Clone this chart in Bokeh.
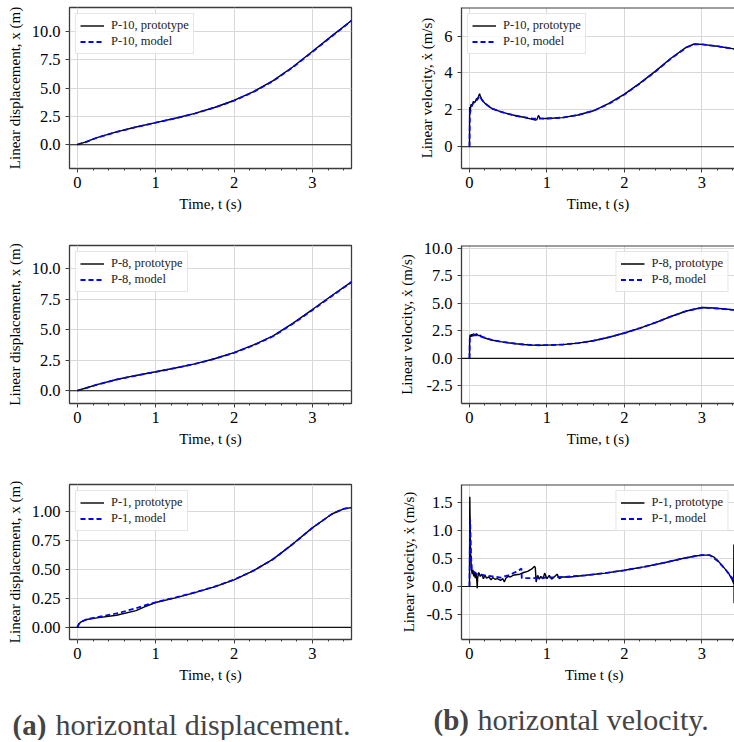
from bokeh.plotting import figure
from bokeh.layouts import column, row
from bokeh.models import Range1d, FixedTicker, PrintfTickFormatter, Span, Label
from bokeh.embed import file_html
from bokeh.resources import INLINE

FONT = "'Liberation Serif', serif"

# ---------------- data ----------------
# P-10 displacement
t_d10 = [0, 0.1, 0.25, 0.5, 0.75, 1.0, 1.25, 1.5, 1.75, 2.0, 2.25, 2.5, 2.75, 3.0, 3.25, 3.5]
x_d10_proto = [0, 0.22, 0.62, 1.13, 1.56, 1.95, 2.33, 2.76, 3.28, 3.90, 4.68, 5.65, 6.85, 8.22, 9.60, 10.95]
x_d10_model = [0, 0.21, 0.61, 1.12, 1.55, 1.94, 2.32, 2.75, 3.27, 3.88, 4.66, 5.62, 6.82, 8.18, 9.57, 10.93]

# P-8 displacement
t_d8 = [0, 0.1, 0.25, 0.5, 0.75, 1.0, 1.25, 1.5, 1.75, 2.0, 2.25, 2.5, 2.75, 3.0, 3.25, 3.5]
x_d8_proto = [0, 0.2, 0.5, 0.92, 1.25, 1.55, 1.86, 2.2, 2.62, 3.12, 3.75, 4.5, 5.52, 6.65, 7.8, 8.92]
x_d8_model = [0, 0.19, 0.49, 0.91, 1.24, 1.54, 1.85, 2.19, 2.61, 3.1, 3.72, 4.46, 5.48, 6.6, 7.76, 8.9]

# P-1 displacement
t_d1 = [0, 0.02, 0.05, 0.12, 0.25, 0.5, 0.75, 0.85, 1.0, 1.25, 1.5, 1.75, 2.0, 2.25, 2.5, 2.75, 3.0, 3.25, 3.4, 3.5]
x_d1_proto = [0, 0.03, 0.048, 0.068, 0.082, 0.105, 0.145, 0.175, 0.215, 0.255, 0.3, 0.35, 0.41, 0.49, 0.59, 0.72, 0.86, 0.98, 1.025, 1.035]
x_d1_model = [0, 0.03, 0.05, 0.07, 0.088, 0.12, 0.165, 0.188, 0.217, 0.258, 0.302, 0.352, 0.412, 0.49, 0.59, 0.72, 0.86, 0.98, 1.025, 1.035]

# P-10 velocity
t_v10_proto = [0, 0.002, 0.01, 0.02, 0.03, 0.05, 0.07, 0.09, 0.11, 0.13, 0.14, 0.16, 0.2, 0.25, 0.3, 0.4, 0.5, 0.6, 0.7, 0.8, 0.85, 0.87, 0.89, 0.91, 0.95, 1.0, 1.2, 1.4, 1.6, 1.8, 2.0, 2.2, 2.4, 2.6, 2.8, 2.9, 3.0, 3.2, 3.5]
v_v10_proto = [0, 2.15, 1.95, 2.3, 2.2, 2.45, 2.4, 2.6, 2.65, 2.88, 2.75, 2.55, 2.35, 2.18, 2.05, 1.9, 1.78, 1.68, 1.6, 1.5, 1.45, 1.47, 1.7, 1.55, 1.53, 1.53, 1.58, 1.72, 1.95, 2.35, 2.85, 3.45, 4.1, 4.8, 5.4, 5.57, 5.55, 5.45, 5.25]
t_v10_model = [0, 0.005, 0.03, 0.07, 0.1, 0.13, 0.16, 0.2, 0.3, 0.4, 0.5, 0.6, 0.7, 0.8, 0.9, 1.0, 1.2, 1.4, 1.6, 1.8, 2.0, 2.2, 2.4, 2.6, 2.8, 2.9, 3.0, 3.2, 3.5]
v_v10_model = [0, 1.8, 2.25, 2.45, 2.55, 2.75, 2.55, 2.35, 2.05, 1.9, 1.78, 1.68, 1.6, 1.54, 1.52, 1.53, 1.58, 1.72, 1.95, 2.33, 2.83, 3.43, 4.08, 4.78, 5.38, 5.55, 5.55, 5.45, 5.25]

# P-8 velocity
t_v8_proto = [0, 0.002, 0.01, 0.02, 0.03, 0.04, 0.05, 0.06, 0.07, 0.08, 0.09, 0.1, 0.12, 0.14, 0.17, 0.2, 0.25, 0.3, 0.4, 0.5, 0.6, 0.7, 0.8, 0.9, 1.0, 1.2, 1.4, 1.6, 1.8, 2.0, 2.2, 2.4, 2.6, 2.8, 3.0, 3.1, 3.3, 3.5]
v_v8_proto = [0, 1.85, 2.15, 1.95, 2.2, 2.0, 2.25, 2.05, 2.2, 2.1, 2.25, 2.15, 2.05, 2.1, 1.9, 1.85, 1.72, 1.65, 1.52, 1.42, 1.33, 1.26, 1.21, 1.19, 1.2, 1.25, 1.38, 1.6, 1.92, 2.3, 2.75, 3.25, 3.8, 4.3, 4.62, 4.6, 4.48, 4.35]
t_v8_model = [0, 0.005, 0.03, 0.07, 0.1, 0.15, 0.2, 0.3, 0.4, 0.5, 0.6, 0.7, 0.8, 0.9, 1.0, 1.2, 1.4, 1.6, 1.8, 2.0, 2.2, 2.4, 2.6, 2.8, 3.0, 3.1, 3.3, 3.5]
v_v8_model = [0, 1.9, 2.05, 2.12, 2.1, 1.98, 1.87, 1.65, 1.52, 1.42, 1.33, 1.26, 1.21, 1.19, 1.2, 1.25, 1.38, 1.6, 1.92, 2.3, 2.75, 3.25, 3.8, 4.3, 4.6, 4.58, 4.47, 4.34]

# P-1 velocity
t_v1_proto = [0, 0.004, 0.008, 0.015, 0.025, 0.035, 0.045, 0.055, 0.065, 0.075, 0.085, 0.095, 0.1, 0.105, 0.12, 0.14, 0.16, 0.18, 0.2, 0.22, 0.25, 0.28, 0.3, 0.33, 0.36, 0.4, 0.43, 0.45, 0.47, 0.5, 0.53, 0.56, 0.6, 0.65, 0.7, 0.75, 0.8, 0.84, 0.85, 0.86, 0.88, 0.9, 0.92, 0.95, 0.97, 1.0, 1.03, 1.06, 1.1, 1.13, 1.16, 1.2, 1.3, 1.5, 1.75, 2.0, 2.25, 2.5, 2.75, 2.9, 3.0, 3.1, 3.15, 3.2, 3.25, 3.3, 3.35, 3.39, 3.41, 3.412, 3.415, 3.42]
v_v1_proto = [0, 1.6, 1.2, 0.6, 0.32, 0.22, 0.3, 0.18, 0.26, 0.15, 0.24, 0.1, -0.03, 0.15, 0.25, 0.18, 0.22, 0.14, 0.2, 0.15, 0.17, 0.12, 0.16, 0.13, 0.14, 0.11, 0.14, 0.08, 0.15, 0.18, 0.17, 0.2, 0.21, 0.22, 0.25, 0.27, 0.31, 0.36, 0.33, 0.08, 0.2, 0.13, 0.18, 0.14, 0.24, 0.14, 0.2, 0.13, 0.18, 0.22, 0.14, 0.17, 0.17, 0.2, 0.24, 0.29, 0.35, 0.42, 0.5, 0.54, 0.56, 0.56, 0.53, 0.47, 0.39, 0.31, 0.22, 0.12, 0.05, 0.75, -0.3, 0.1]
t_v1_model = [0, 0.008, 0.02, 0.03, 0.05, 0.1, 0.2, 0.3, 0.4, 0.5, 0.6, 0.67, 0.675, 0.8, 1.0, 1.2, 1.5, 1.75, 2.0, 2.25, 2.5, 2.75, 2.9, 3.0, 3.1, 3.2, 3.3, 3.42]
v_v1_model = [0, 1.2, 0.55, 0.33, 0.27, 0.22, 0.2, 0.18, 0.16, 0.2, 0.26, 0.32, 0.15, 0.15, 0.16, 0.17, 0.2, 0.24, 0.29, 0.35, 0.42, 0.5, 0.54, 0.56, 0.56, 0.46, 0.31, 0.1]

x_major_ticks = [0, 1, 2, 3]
x_minor_ticks = [0.2, 0.4, 0.6, 0.8, 1.2, 1.4, 1.6, 1.8, 2.2, 2.4, 2.6, 2.8, 3.2, 3.4]
yt_disp_big = [0, 2.5, 5, 7.5, 10]
yt_disp_small = [0, 0.25, 0.5, 0.75, 1.0]
yt_v10 = [0, 2, 4, 6]
yt_v8 = [-2.5, 0, 2.5, 5, 7.5, 10]
yt_v1 = [-0.5, 0, 0.5, 1.0, 1.5]

FRAME = "#3c3c3c"
GRID = "#d8d8d8"


def panel(width, height, xr, yr, mb, yticks, yfmt, xlabel, ylabel,
          name, tp, yp, tm, ym, legend_loc, open_right=False):
    p = figure(width=width, height=height, x_range=Range1d(*xr), y_range=Range1d(*yr),
               output_backend="svg", toolbar_location=None,
               min_border_left=mb[0], min_border_right=mb[1],
               min_border_top=mb[2], min_border_bottom=mb[3])
    p.background_fill_color = "white"
    p.border_fill_color = "white"
    p.xaxis.ticker = FixedTicker(ticks=x_major_ticks, minor_ticks=x_minor_ticks)
    p.yaxis.ticker = FixedTicker(ticks=yticks, minor_ticks=[])
    p.xgrid.ticker = FixedTicker(ticks=x_major_ticks)
    p.ygrid.ticker = FixedTicker(ticks=yticks)
    p.yaxis.formatter = PrintfTickFormatter(format=yfmt)
    p.xaxis.formatter = PrintfTickFormatter(format="%d")
    for g in (p.xgrid, p.ygrid):
        g.grid_line_color = GRID
        g.grid_line_width = 1
    for ax in (p.xaxis, p.yaxis):
        ax.major_tick_out = 4
        ax.major_tick_in = 0
        ax.minor_tick_out = 2
        ax.minor_tick_in = 0
        ax.major_tick_line_color = FRAME
        ax.minor_tick_line_color = FRAME
        ax.major_label_text_font = FONT
        ax.major_label_text_font_size = "16.5px"
        ax.major_label_text_color = "black"
        ax.axis_label_text_font = FONT
        ax.axis_label_text_font_size = "15px"
        ax.axis_label_text_font_style = "normal"
        ax.axis_label_text_color = "black"
        ax.major_label_standoff = 4
        ax.axis_label_standoff = 5
    p.yaxis.major_label_standoff = 5
    p.yaxis.axis_label_standoff = 6
    p.xaxis.axis_label = xlabel
    p.yaxis.axis_label = ylabel
    if open_right:
        p.outline_line_color = None
        for ax in (p.xaxis, p.yaxis):
            ax.axis_line_color = FRAME
            ax.axis_line_width = 1.3
        p.add_layout(Span(location=yr[1], dimension="width", line_color=FRAME, line_width=2.2))
    else:
        p.outline_line_color = FRAME
        p.outline_line_width = 1.3
        p.xaxis.axis_line_color = None
        p.yaxis.axis_line_color = None
    p.add_layout(Span(location=0, dimension="width", line_color="#111111", line_width=1.1))

    p.line(tp, yp, line_color="black", line_width=1.4, legend_label=name + ", prototype")
    p.line(tm, ym, line_color="#0000ff", line_width=1.8, line_dash="5 3",
           legend_label=name + ", model")

    lg = p.legend[0]
    lg.location = legend_loc
    lg.margin = 6
    lg.padding = 4
    lg.spacing = 1
    lg.label_text_font = FONT
    lg.label_text_font_size = "12.5px"
    lg.label_text_color = "#222222"
    lg.label_height = 15
    lg.glyph_height = 15
    lg.glyph_width = 24
    lg.label_standoff = 7
    lg.border_line_color = "#cccccc"
    lg.border_line_width = 1
    lg.background_fill_alpha = 0.85
    return p


XR_L = (-0.1, 3.5)
XR_R = (-0.103, 3.42)
WL, WR = 395, 339
YLAB_D = "Linear displacement, x (m)"
YLAB_V = "Linear velocity, \u1e8b (m/s)"
XLAB = "Time, t (s)"

a1 = panel(WL, 236, XR_L, (-2.1, 12.1), (69, 44, 7, 66), yt_disp_big, "%.1f", XLAB, YLAB_D,
           "P-10", t_d10, x_d10_proto, t_d10, x_d10_model, "top_left")
b1 = panel(WR, 236, XR_R, (-1.18, 7.55), (66, 0, 7, 68), yt_v10, "%d", XLAB, YLAB_V,
           "P-10", t_v10_proto, v_v10_proto, t_v10_model, v_v10_model, "top_left", True)
a2 = panel(WL, 232, XR_L, (-1.05, 11.9), (69, 44, 9, 60), yt_disp_big, "%.1f", XLAB, YLAB_D,
           "P-8", t_d8, x_d8_proto, t_d8, x_d8_model, "top_left")
b2 = panel(WR, 232, XR_R, (-4.1, 10.25), (66, 0, 8, 65), yt_v8, "%.1f", XLAB, YLAB_V,
           "P-8", t_v8_proto, v_v8_proto, t_v8_model, v_v8_model, "top_right", True)
a3 = panel(WL, 224, XR_L, (-0.105, 1.235), (69, 44, 16, 46), yt_disp_small, "%.2f", XLAB, YLAB_D,
           "P-1", t_d1, x_d1_proto, t_d1, x_d1_model, "top_left")
b3 = panel(WR, 224, XR_R, (-0.945, 1.82), (66, 0, 10, 53), yt_v1, "%.1f", "Time  t  (s)", YLAB_V,
           "P-1", t_v1_proto, v_v1_proto, t_v1_model, v_v1_model, "top_right", True)

CAP_H = 48
cap = figure(width=734, height=CAP_H, x_range=Range1d(0, 734), y_range=Range1d(0, CAP_H),
             output_backend="svg", toolbar_location=None,
             min_border_left=0, min_border_right=0, min_border_top=0, min_border_bottom=0)
cap.axis.visible = False
cap.grid.visible = False
cap.outline_line_color = None
cap.add_layout(Label(x=12, y=16, text="(a)", text_font=FONT, text_font_size="29px",
                     text_font_style="bold", text_baseline="alphabetic"))
cap.add_layout(Label(x=55, y=16, text="horizontal displacement.", text_font=FONT,
                     text_font_size="30px", text_baseline="alphabetic"))
cap.add_layout(Label(x=433, y=21, text="(b)", text_font=FONT, text_font_size="29px",
                     text_font_style="bold", text_baseline="alphabetic"))
cap.add_layout(Label(x=477, y=21, text="horizontal velocity.", text_font=FONT,
                     text_font_size="30px", text_baseline="alphabetic"))

layout = column(row(a1, b1), row(a2, b2), row(a3, b3), cap)
open("out.html", "w").write(file_html(layout, INLINE))
